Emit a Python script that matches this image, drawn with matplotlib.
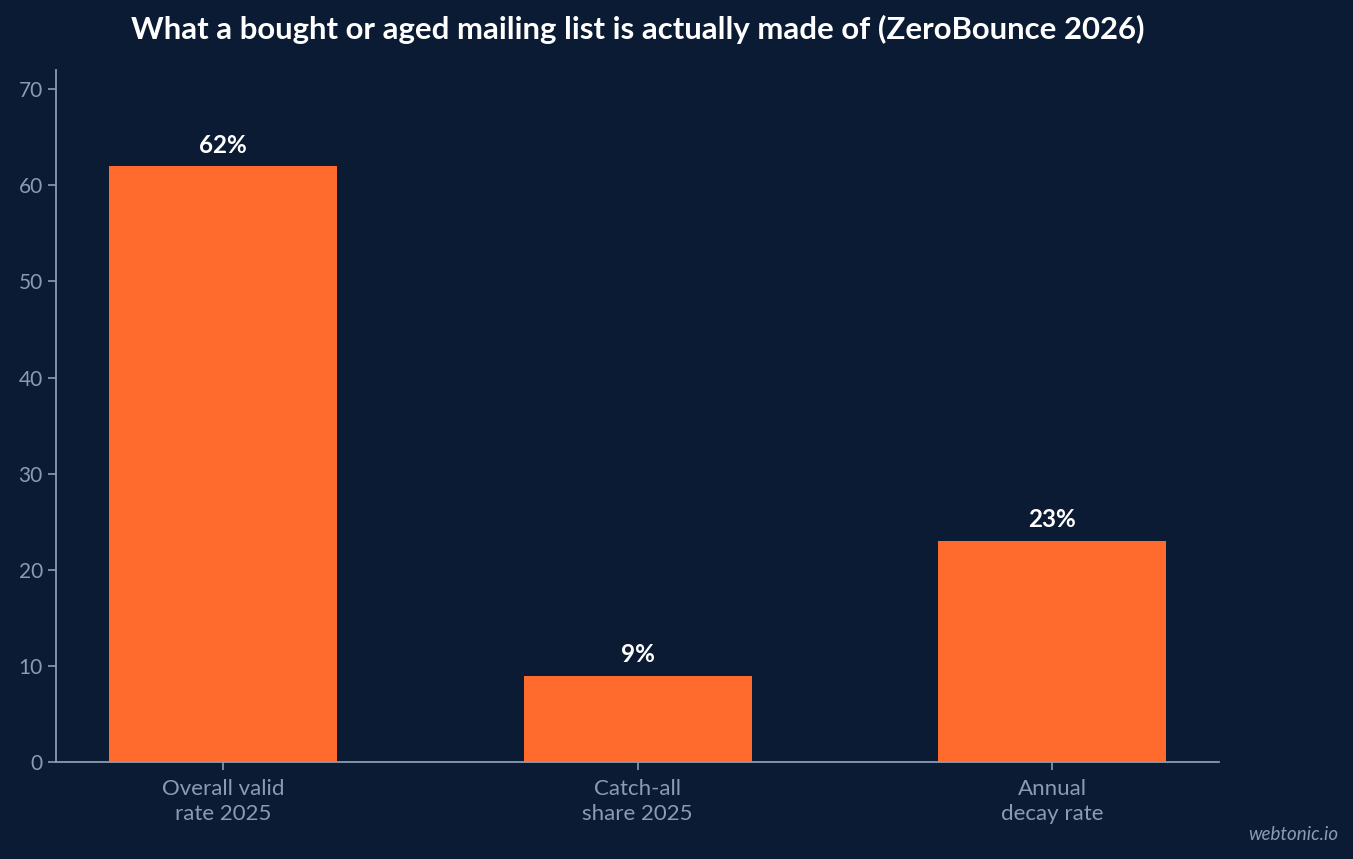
import matplotlib
matplotlib.use("Agg")
import matplotlib.pyplot as plt

categories = ["Overall valid\nrate 2025", "Catch-all\nshare 2025", "Annual\ndecay rate"]
values = [62, 9, 23]
value_labels = ["62%", "9%", "23%"]
yticks = [0, 10, 20, 30, 40, 50, 60, 70]

BG = "#0b1b33"
BAR = "#ff6b2c"
MUTED = "#8a9bb4"

plt.rcParams["font.family"] = ["Lato", "DejaVu Sans"]

fig = plt.figure(figsize=(13.53, 8.59), dpi=100, facecolor=BG)
ax = fig.add_axes([0.0414, 0.1129, 0.8596, 0.8056], facecolor=BG)

x = list(range(len(categories)))
ax.bar(x, values, width=0.55, color=BAR, zorder=2)
for xi, v, lab in zip(x, values, value_labels):
    ax.text(xi, v + 1.0, lab, ha="center", va="bottom", color="white",
            fontsize=17.5, fontweight="bold")

ax.set_xticks(x)
ax.set_xticklabels(categories, fontsize=16, color=MUTED, linespacing=1.32)
ax.set_yticks(yticks)
ax.set_yticklabels([str(t) for t in yticks], fontsize=15, color=MUTED)
ax.set_ylim(0, 72)
ax.tick_params(colors=MUTED, length=6, width=1.2)
ax.tick_params(axis="x", pad=6)

for s in ("top", "right"):
    ax.spines[s].set_visible(False)
for s in ("left", "bottom"):
    ax.spines[s].set_color(MUTED)
    ax.spines[s].set_linewidth(1.3)

ax.set_title("What a bought or aged mailing list is actually made of (ZeroBounce 2026)",
             color="white", fontsize=22.4, fontweight="bold", pad=22)

fig.text(0.989, 0.019, "webtonic.io", ha="right", va="bottom", color=MUTED,
         fontsize=13.5, fontstyle="italic")

fig.savefig("out.png", dpi=100, facecolor=BG)
